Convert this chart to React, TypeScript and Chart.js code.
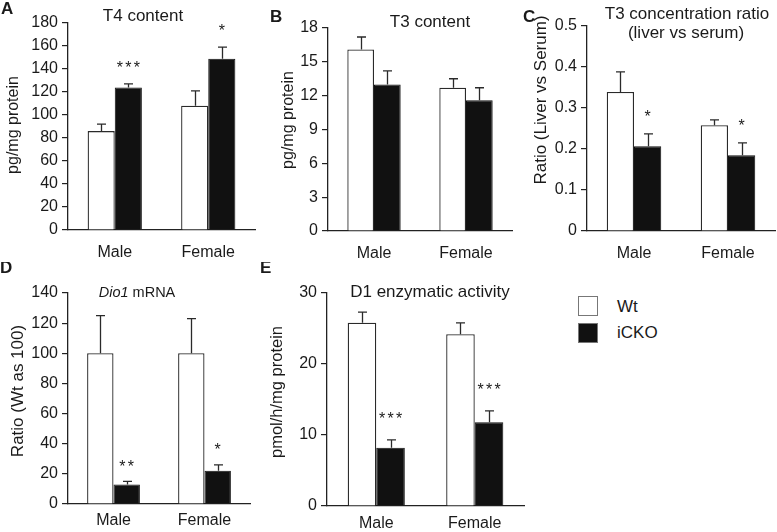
import React, { useEffect, useRef } from 'react';
import { Chart, registerables } from 'chart.js';

Chart.register(...registerables);

// ---------------- data ----------------
const categories = ['Male', 'Female'];
const seriesNames = ['Wt', 'iCKO'];

// A: T4 content (pg/mg protein)
const t4Wt = [86, 108];
const t4WtSem = [6, 13];
const t4Ko = [124, 149];
const t4KoSem = [3, 10];
const t4KoSig = ['***', '*'];
const t4Ticks = [0, 20, 40, 60, 80, 100, 120, 140, 160, 180];

// B: T3 content (pg/mg protein)
const t3Wt = [16.1, 12.7];
const t3WtSem = [1.1, 0.8];
const t3Ko = [13.0, 11.6];
const t3KoSem = [1.2, 1.1];
const t3KoSig = ['', ''];
const t3Ticks = [0, 3, 6, 9, 12, 15, 18];

// C: T3 concentration ratio (liver vs serum)
const ratioWt = [0.339, 0.258];
const ratioWtSem = [0.049, 0.013];
const ratioKo = [0.207, 0.185];
const ratioKoSem = [0.03, 0.03];
const ratioKoSig = ['*', '*'];
const ratioTicks = [0, 0.1, 0.2, 0.3, 0.4, 0.5];

// D: Dio1 mRNA (Wt as 100)
const dio1Wt = [100, 100];
const dio1WtSem = [25, 23];
const dio1Ko = [13, 22];
const dio1KoSem = [2, 4];
const dio1KoSig = ['**', '*'];
const dio1Ticks = [0, 20, 40, 60, 80, 100, 120, 140];

// E: D1 enzymatic activity (pmol/h/mg protein)
const d1Wt = [25.8, 24.2];
const d1WtSem = [1.5, 1.6];
const d1Ko = [8.2, 11.8];
const d1KoSem = [1.1, 1.6];
const d1KoSig = ['***', '***'];
const d1Ticks = [0, 10, 20, 30];

// ---------------- styling / layout ----------------
const FONT = "'Liberation Sans', Arial, Helvetica, sans-serif";
const INK = '#1a1a1a';

type Seg = { t: string; italic?: boolean };
type TitleLine = { segs: Seg[]; cx: number; by: number };
interface PanelCfg {
  letter: string;
  letterX: number;
  letterBy: number;
  box: { left: number; top: number; w: number; h: number };
  area: { left: number; top: number; right: number; bottom: number };
  xH: number;
  xPad: number;
  titleSize: number;
  title: TitleLine[];
  yTitle: { text: string; cx: number; cy: number; size: number };
  ticks: number[];
  wt: number[];
  wtSem: number[];
  ko: number[];
  koSem: number[];
  koSig: string[];
  starGap: number;
}

const panels: PanelCfg[] = [
  {
    letter: 'A', letterX: 1, letterBy: 14,
    box: { left: 0, top: 0, w: 262, h: 262 },
    area: { left: 68, top: 23, right: 255, bottom: 230 },
    xH: 30, xPad: 13, titleSize: 17,
    title: [{ segs: [{ t: 'T4 content' }], cx: 143, by: 21 }],
    yTitle: { text: 'pg/mg protein', cx: 14, cy: 125, size: 16 },
    ticks: t4Ticks, wt: t4Wt, wtSem: t4WtSem, ko: t4Ko, koSem: t4KoSem, koSig: t4KoSig, starGap: 20,
  },
  {
    letter: 'B', letterX: 270, letterBy: 22,
    box: { left: 262, top: 0, w: 255, h: 262 },
    area: { left: 328, top: 28, right: 512, bottom: 231 },
    xH: 30, xPad: 13, titleSize: 17,
    title: [{ segs: [{ t: 'T3 content' }], cx: 430, by: 27 }],
    yTitle: { text: 'pg/mg protein', cx: 289, cy: 120, size: 16 },
    ticks: t3Ticks, wt: t3Wt, wtSem: t3WtSem, ko: t3Ko, koSem: t3KoSem, koSig: t3KoSig, starGap: 20,
  },
  {
    letter: 'C', letterX: 523, letterBy: 22,
    box: { left: 517, top: 0, w: 260, h: 262 },
    area: { left: 587, top: 26, right: 775, bottom: 231 },
    xH: 30, xPad: 13, titleSize: 17,
    title: [
      { segs: [{ t: 'T3 concentration ratio' }], cx: 687, by: 19 },
      { segs: [{ t: '(liver vs serum)' }], cx: 686, by: 38 },
    ],
    yTitle: { text: 'Ratio (Liver vs Serum)', cx: 541, cy: 100, size: 17 },
    ticks: ratioTicks, wt: ratioWt, wtSem: ratioWtSem, ko: ratioKo, koSem: ratioKoSem, koSig: ratioKoSig, starGap: 21,
  },
  {
    letter: 'D', letterX: 0, letterBy: 273,
    box: { left: 0, top: 262, w: 262, h: 270 },
    area: { left: 68, top: 293, right: 250, bottom: 504 },
    xH: 26, xPad: 7, titleSize: 14.5,
    title: [{ segs: [{ t: 'Dio1', italic: true }, { t: ' mRNA' }], cx: 137, by: 297 }],
    yTitle: { text: 'Ratio (Wt as 100)', cx: 18, cy: 391, size: 17 },
    ticks: dio1Ticks, wt: dio1Wt, wtSem: dio1WtSem, ko: dio1Ko, koSem: dio1KoSem, koSig: dio1KoSig, starGap: 19,
  },
  {
    letter: 'E', letterX: 260, letterBy: 273,
    box: { left: 258, top: 262, w: 274, h: 270 },
    area: { left: 327, top: 293, right: 524, bottom: 506 },
    xH: 24, xPad: 8, titleSize: 17,
    title: [{ segs: [{ t: 'D1 enzymatic activity' }], cx: 430, by: 297 }],
    yTitle: { text: 'pmol/h/mg protein', cx: 277, cy: 392, size: 16.5 },
    ticks: d1Ticks, wt: d1Wt, wtSem: d1WtSem, ko: d1Ko, koSem: d1KoSem, koSig: d1KoSig, starGap: 25,
  },
];

function makeDecoPlugin(cfg: PanelCfg) {
  const ox = cfg.box.left;
  const oy = cfg.box.top;
  return {
    id: 'panelDeco',
    afterDatasetsDraw(chart: any) {
      const ctx = chart.ctx as CanvasRenderingContext2D;
      const yScale = chart.scales.y;
      const sems = [cfg.wtSem, cfg.koSem];
      const vals = [cfg.wt, cfg.ko];
      ctx.save();
      ctx.strokeStyle = '#2a2a2a';
      ctx.lineWidth = 1.3;
      [0, 1].forEach((d) => {
        const meta = chart.getDatasetMeta(d);
        meta.data.forEach((bar: any, i: number) => {
          const top = yScale.getPixelForValue(vals[d][i] + sems[d][i]);
          const x = Math.round(bar.x) + 0.5;
          ctx.beginPath();
          ctx.moveTo(x, bar.y);
          ctx.lineTo(x, top);
          ctx.moveTo(x - 4.5, top);
          ctx.lineTo(x + 4.5, top);
          ctx.stroke();
          if (d === 1 && cfg.koSig[i]) {
            const n = cfg.koSig[i].length;
            const fs = 16;
            ctx.fillStyle = INK;
            ctx.font = `${fs}px ${FONT}`;
            ctx.textAlign = 'center';
            ctx.textBaseline = 'alphabetic';
            const centerY = top - cfg.starGap;
            const by = centerY + 0.57 * fs;
            const sp = 8.5;
            for (let k = 0; k < n; k++) {
              ctx.fillText('*', bar.x + (k - (n - 1) / 2) * sp, by);
            }
          }
        });
      });
      ctx.restore();
    },
    afterDraw(chart: any) {
      const ctx = chart.ctx as CanvasRenderingContext2D;
      ctx.save();
      ctx.fillStyle = INK;
      // panel letter
      ctx.font = `bold 17px ${FONT}`;
      ctx.textAlign = 'left';
      ctx.textBaseline = 'alphabetic';
      ctx.fillText(cfg.letter, cfg.letterX - ox, cfg.letterBy - oy);
      // title lines
      cfg.title.forEach((line) => {
        const fonts = line.segs.map((s) => `${s.italic ? 'italic ' : ''}${cfg.titleSize}px ${FONT}`);
        let total = 0;
        const widths = line.segs.map((s, k) => {
          ctx.font = fonts[k];
          const w = ctx.measureText(s.t).width;
          total += w;
          return w;
        });
        let x = line.cx - ox - total / 2;
        line.segs.forEach((s, k) => {
          ctx.font = fonts[k];
          ctx.fillText(s.t, x, line.by - oy);
          x += widths[k];
        });
      });
      // y title
      ctx.translate(cfg.yTitle.cx - ox, cfg.yTitle.cy - oy);
      ctx.rotate(-Math.PI / 2);
      ctx.font = `${cfg.yTitle.size}px ${FONT}`;
      ctx.textAlign = 'center';
      ctx.textBaseline = 'middle';
      ctx.fillText(cfg.yTitle.text, 0, 0);
      ctx.restore();
    },
  };
}

function Panel({ cfg }: { cfg: PanelCfg }) {
  const ref = useRef<HTMLCanvasElement>(null);
  useEffect(() => {
    const { box, area, xH } = cfg;
    const yW = area.left - box.left;
    const pad = {
      left: 0,
      top: area.top - box.top,
      right: box.left + box.w - area.right,
      bottom: box.top + box.h - area.bottom - xH,
    };
    const chart = new Chart(ref.current as HTMLCanvasElement, {
      type: 'bar',
      data: {
        labels: categories,
        datasets: [
          {
            label: seriesNames[0],
            data: cfg.wt,
            backgroundColor: '#ffffff',
            borderColor: '#2a2a2a',
            borderWidth: 1.3,
          },
          {
            label: seriesNames[1],
            data: cfg.ko,
            backgroundColor: '#111111',
            borderColor: '#111111',
            borderWidth: 1,
          },
        ],
      },
      options: {
        responsive: false,
        animation: false,
        events: [],
        layout: { padding: pad },
        datasets: { bar: { categoryPercentage: 0.58, barPercentage: 1 } },
        plugins: {
          legend: { display: false },
          tooltip: { enabled: false },
          title: { display: false },
        },
        scales: {
          x: {
            grid: { display: false, drawTicks: false },
            border: { display: true, color: '#222', width: 1.3 },
            ticks: {
              color: INK,
              font: { family: FONT, size: 16 },
              padding: cfg.xPad,
              maxRotation: 0,
              autoSkip: false,
            },
            afterFit: (s: any) => {
              s.height = xH;
            },
          },
          y: {
            min: cfg.ticks[0],
            max: cfg.ticks[cfg.ticks.length - 1],
            grid: {
              display: true,
              drawOnChartArea: false,
              drawTicks: true,
              tickLength: 6,
              color: '#222',
              lineWidth: 1.2,
            },
            border: { display: true, color: '#222', width: 1.3 },
            ticks: {
              color: INK,
              font: { family: FONT, size: 16 },
              padding: 4,
              callback: (v: any) => String(v),
            },
            afterBuildTicks: (s: any) => {
              s.ticks = cfg.ticks.map((v) => ({ value: v }));
            },
            afterFit: (s: any) => {
              s.width = yW;
            },
          },
        },
      },
      plugins: [makeDecoPlugin(cfg)],
    } as any);
    return () => chart.destroy();
  }, [cfg]);
  return (
    <canvas
      ref={ref}
      width={cfg.box.w}
      height={cfg.box.h}
      style={{
        position: 'absolute',
        left: cfg.box.left,
        top: cfg.box.top,
        width: cfg.box.w,
        height: cfg.box.h,
      }}
    />
  );
}

export default function App() {
  return (
    <div
      style={{
        position: 'absolute',
        left: 0,
        top: 0,
        width: 777,
        height: 532,
        background: '#fff',
        overflow: 'hidden',
        fontFamily: FONT,
      }}
    >
      {panels.map((p) => (
        <Panel key={p.letter} cfg={p} />
      ))}
      {/* legend */}
      <div
        style={{
          position: 'absolute', left: 578, top: 296, width: 20, height: 20,
          boxSizing: 'border-box', border: '1.5px solid #777', background: '#fff',
        }}
      />
      <div
        style={{
          position: 'absolute', left: 578, top: 323, width: 20, height: 20,
          boxSizing: 'border-box', border: '1px solid #777', background: '#111',
        }}
      />
      <div style={{ position: 'absolute', left: 617, top: 296, lineHeight: '22px', fontSize: 17, color: INK }}>
        {seriesNames[0]}
      </div>
      <div style={{ position: 'absolute', left: 617, top: 322, lineHeight: '22px', fontSize: 17, color: INK }}>
        {seriesNames[1]}
      </div>
    </div>
  );
}
